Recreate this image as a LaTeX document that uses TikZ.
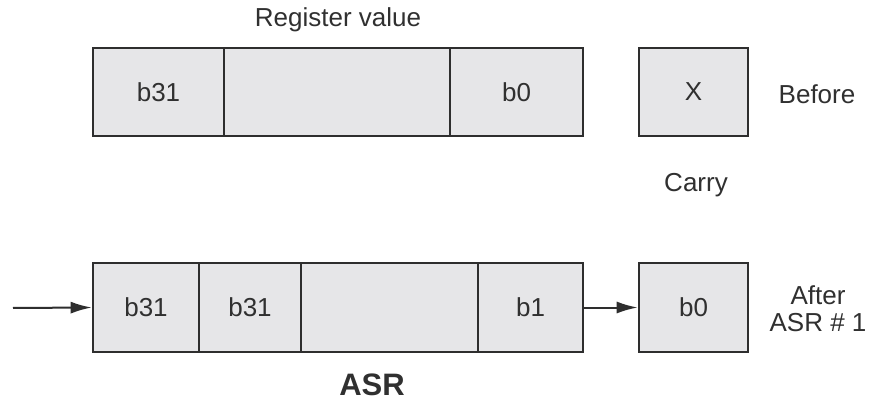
\documentclass[tikz,border=0pt]{standalone}
\usepackage{fontspec}
\setmainfont{Liberation Sans}
\usetikzlibrary{arrows.meta}
\definecolor{cellfill}{HTML}{E6E6E8}
\definecolor{edge}{HTML}{2E2E2E}
\definecolor{txt}{HTML}{303030}
\begin{document}
\begin{tikzpicture}[x=1pt,y=-1pt,
  cell/.style={draw=edge,fill=cellfill,line width=2.6pt,inner sep=0pt,text=txt,
    font=\fontsize{26}{30}\selectfont},
  lbl/.style={text=txt,font=\fontsize{26}{30}\selectfont,inner sep=0pt,align=center},
  conn/.style={draw=edge,line width=2pt,-{Latex[length=21pt,width=12pt]}}]
\useasboundingbox[fill=white] (0,0) rectangle (872,403);
% top row
\node[cell,minimum width=131pt,minimum height=88pt] (t1) at (158.5,92) {b31};
\node[cell,minimum width=226pt,minimum height=88pt] (t2) at (337,92) {};
\node[cell,minimum width=133pt,minimum height=88pt] (t3) at (516.5,92) {b0};
\node[cell,minimum width=109pt,minimum height=88pt] (tc) at (693.5,92) {X};
\node[lbl] (reg) at (338,20) {Register value};
\node[lbl] (before) at (817,94) {Before};
\node[lbl] (carry) at (696,185) {Carry};
% bottom row
\node[cell,minimum width=106pt,minimum height=89pt] (b1) at (146,307.5) {b31};
\node[cell,minimum width=102pt,minimum height=89pt] (b2) at (250,307.5) {b31};
\node[cell,minimum width=177pt,minimum height=89pt] (b3) at (389.5,307.5) {};
\node[cell,minimum width=105pt,minimum height=89pt] (b4) at (530.5,307.5) {b1};
\node[cell,minimum width=109pt,minimum height=89pt] (bc) at (693.5,307.5) {b0};
\node[lbl] (after) at (818,308.5) {After\\[-3pt]ASR \# 1};
\node[lbl,font=\bfseries\fontsize{31}{34}\selectfont] (asr) at (372,385) {ASR};
\coordinate (in) at (13,308);
\draw[conn] (in) -- (b1.west);
\draw[conn] (b4.east) -- (bc.west);
\end{tikzpicture}
\end{document}
